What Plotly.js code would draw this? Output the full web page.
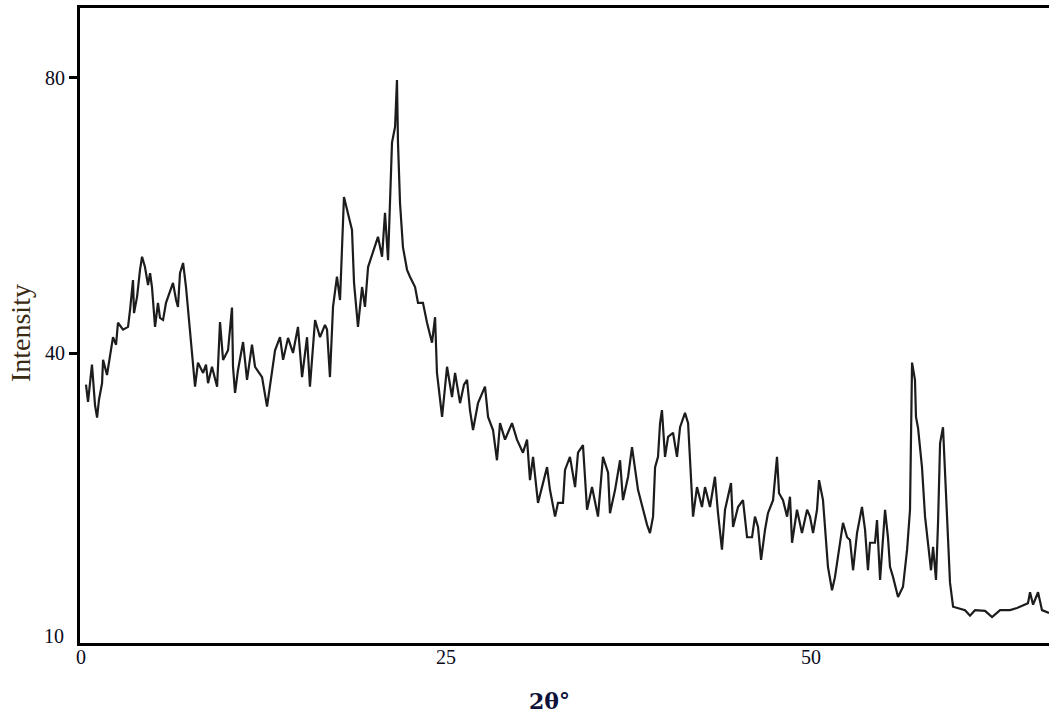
<!DOCTYPE html>
<html>
<head>
<meta charset="utf-8">
<script src="https://cdn.plot.ly/plotly-3.0.1.min.js"></script>
<style>
  html, body { margin: 0; padding: 0; background: #ffffff; }
  #chart { width: 1049px; height: 717px; }
</style>
</head>
<body>
<div id="chart"></div>
<script>
// 2θ (degrees)
const twoTheta = [
  0.34, 0.48, 0.75, 0.96, 1.10, 1.23, 1.44, 1.51, 1.78, 1.99,
  2.19, 2.40, 2.53, 2.88, 3.22, 3.36, 3.56, 3.63, 3.84, 4.04,
  4.18, 4.38, 4.59, 4.73, 4.86, 5.07, 5.27, 5.41, 5.62, 5.82,
  5.96, 6.16, 6.30, 6.51, 6.64, 6.78, 6.99, 7.19, 7.47, 7.67,
  7.81, 8.01, 8.36, 8.56, 8.70, 8.97, 9.18, 9.32, 9.52, 9.73,
  10.07, 10.34, 10.41, 10.55, 10.75, 11.10, 11.37, 11.71, 11.92, 12.40,
  12.74, 13.08, 13.29, 13.63, 13.84, 14.18, 14.52, 14.86, 15.14, 15.48,
  15.68, 16.03, 16.37, 16.71, 16.85, 17.05, 17.26, 17.53, 17.74, 18.01,
  18.29, 18.56, 18.70, 18.97, 19.25, 19.45, 19.66, 20.00, 20.34, 20.62,
  20.82, 21.03, 21.16, 21.30, 21.51, 21.64, 21.71, 21.85, 22.05, 22.33,
  22.53, 22.88, 23.08, 23.42, 23.70, 24.04, 24.25, 24.38, 24.73, 25.07,
  25.41, 25.62, 25.96, 26.23, 26.44, 26.64, 26.85, 27.19, 27.67, 27.88,
  28.22, 28.49, 28.70, 29.04, 29.52, 29.86, 30.27, 30.55, 30.75, 30.96,
  31.30, 31.58, 31.92, 32.12, 32.47, 32.67, 33.01, 33.15, 33.49, 33.84,
  34.04, 34.38, 34.66, 35.00, 35.41, 35.75, 36.10, 36.23, 36.58, 36.92,
  37.12, 37.47, 37.74, 38.15, 38.49, 38.77, 38.97, 39.18, 39.32, 39.52,
  39.66, 39.79, 40.00, 40.21, 40.55, 40.82, 41.03, 41.37, 41.58, 41.78,
  41.92, 42.19, 42.53, 42.74, 43.08, 43.42, 43.63, 43.90, 44.11, 44.52,
  44.66, 45.00, 45.34, 45.62, 45.96, 46.16, 46.37, 46.58, 46.85, 47.05,
  47.40, 47.67, 47.81, 48.08, 48.36, 48.56, 48.70, 49.04, 49.38, 49.73,
  49.93, 50.14, 50.41, 50.55, 50.82, 51.16, 51.44, 51.64, 51.85, 52.19,
  52.47, 52.67, 52.88, 53.15, 53.49, 53.70, 53.90, 54.04, 54.38, 54.52,
  54.73, 55.07, 55.27, 55.41, 55.62, 55.96, 56.30, 56.58, 56.78, 56.85,
  56.92, 57.12, 57.19, 57.33, 57.60, 57.81, 58.01, 58.22, 58.36, 58.56,
  58.70, 58.84, 59.04, 59.18, 59.32, 59.52, 59.73, 60.00, 60.55, 60.89,
  61.23, 61.92, 62.40, 62.95, 63.63, 64.11, 64.86, 65.00, 65.21, 65.55,
  65.82, 66.30
];

// Intensity
const intensity = [
  35.4, 32.9, 38.3, 32.4, 30.6, 33.2, 35.6, 39.0, 36.8, 39.4,
  42.3, 41.2, 44.4, 43.4, 43.8, 46.3, 50.6, 45.8, 48.2, 52.1,
  54.0, 52.5, 49.9, 51.6, 49.6, 43.8, 47.3, 45.1, 44.8, 47.3,
  48.2, 49.2, 50.2, 47.7, 46.7, 51.6, 53.1, 49.6, 42.9, 39.0,
  35.1, 38.6, 37.1, 38.3, 35.6, 38.0, 36.4, 35.1, 44.5, 39.0,
  40.4, 46.6, 38.0, 34.2, 37.5, 41.6, 36.1, 41.2, 38.0, 36.5,
  32.2, 37.1, 40.4, 42.3, 39.0, 42.2, 40.0, 43.8, 36.5, 42.3,
  35.1, 44.8, 42.3, 44.1, 43.4, 36.5, 46.7, 51.1, 47.7, 62.7,
  60.4, 57.9, 50.2, 43.8, 49.6, 46.7, 52.5, 54.6, 56.9, 54.0,
  60.4, 53.5, 62.3, 70.6, 72.9, 79.7, 70.6, 61.8, 55.4, 52.1,
  51.1, 49.6, 47.3, 47.3, 44.4, 41.5, 45.2, 37.1, 30.7, 38.0,
  33.6, 37.1, 32.7, 35.4, 36.1, 31.7, 28.8, 32.7, 35.1, 30.7,
  28.8, 24.4, 29.8, 27.4, 29.8, 27.4, 25.5, 27.4, 21.5, 24.9,
  18.2, 20.5, 23.4, 20.1, 16.2, 18.2, 18.2, 23.0, 24.9, 20.5,
  25.5, 26.6, 17.2, 20.5, 16.2, 24.9, 22.6, 16.7, 20.1, 24.4,
  18.6, 22.0, 26.3, 20.1, 17.2, 15.0, 13.8, 16.2, 23.4, 24.9,
  29.8, 31.7, 24.9, 27.8, 28.4, 24.9, 29.2, 31.3, 29.8, 21.5,
  16.2, 20.5, 17.6, 20.5, 17.6, 22.0, 16.7, 11.4, 17.2, 21.1,
  14.7, 17.6, 18.6, 13.2, 13.2, 16.2, 14.7, 9.9, 14.3, 16.7,
  18.6, 24.9, 19.6, 18.6, 16.2, 19.1, 12.4, 17.2, 13.8, 17.2,
  16.2, 13.8, 17.2, 21.5, 18.6, 8.9, 5.5, 7.4, 10.3, 15.3,
  13.2, 12.8, 8.4, 13.8, 17.6, 14.3, 8.4, 12.4, 12.4, 15.7,
  7.0, 17.2, 13.2, 8.9, 7.4, 4.5, 6.0, 11.4, 17.2, 29.2,
  38.6, 36.1, 30.7, 29.1, 23.4, 16.2, 12.4, 8.4, 11.8, 7.0,
  15.3, 26.9, 29.2, 22.6, 16.2, 6.6, 3.1, 2.9, 2.6, 1.8,
  2.6, 2.5, 1.6, 2.6, 2.6, 2.9, 3.6, 5.2, 3.4, 5.2,
  2.6, 2.2
];

const yTickVals = [40, 80];
const yTickText = ['40', '80'];
const yBottomLabel = '10';
const xTickVals = [0, 25, 50];
const xTickText = ['0', '25', '50'];

const serif = 'Liberation Serif, Times New Roman, serif';

const trace = {
  x: twoTheta,
  y: intensity,
  type: 'scatter',
  mode: 'lines',
  line: { color: '#1c1c1c', width: 2.2 },
  hoverinfo: 'x+y'
};

const layout = {
  width: 1049,
  height: 717,
  margin: { l: 80, r: 0, t: 8, b: 74 },
  paper_bgcolor: '#ffffff',
  plot_bgcolor: '#ffffff',
  showlegend: false,
  xaxis: {
    range: [-0.07, 66.3],
    tickvals: xTickVals,
    ticktext: xTickText,
    ticks: '',
    showgrid: false,
    zeroline: false,
    showline: true,
    linecolor: '#000000',
    linewidth: 3,
    mirror: true,
    tickfont: { family: serif, size: 20, color: '#0a0a1a' },
    ticklabelstandoff: -6
  },
  yaxis: {
    range: [-2.18, 90.18],
    tickvals: yTickVals,
    ticktext: yTickText,
    ticks: 'outside',
    ticklen: 8,
    tickwidth: 3,
    tickcolor: '#000000',
    showgrid: false,
    zeroline: false,
    showline: true,
    linecolor: '#000000',
    linewidth: 3,
    mirror: false,
    tickfont: { family: serif, size: 20, color: '#0a0a1a' }
  },
  annotations: [
    {
      text: yBottomLabel, xref: 'paper', yref: 'y', x: 0, y: -1.16,
      xanchor: 'right', yanchor: 'middle', xshift: -14, showarrow: false,
      font: { family: serif, size: 20, color: '#0a0a1a' }
    },
    {
      text: 'Intensity', xref: 'paper', yref: 'y', x: 0, y: 42.9,
      xanchor: 'center', yanchor: 'middle', xshift: -60, textangle: -90,
      showarrow: false,
      font: { family: serif, size: 28, color: '#3a2a12' }
    },
    {
      text: '<b>2θ°</b>', xref: 'paper', yref: 'paper', x: 0.485, y: 0,
      xanchor: 'center', yanchor: 'middle', yshift: -58, showarrow: false,
      font: { family: 'DejaVu Serif, serif', size: 22, color: '#10123a' }
    }
  ]
};

Plotly.newPlot('chart', [trace], layout, { displayModeBar: false, staticPlot: true });
</script>
</body>
</html>
